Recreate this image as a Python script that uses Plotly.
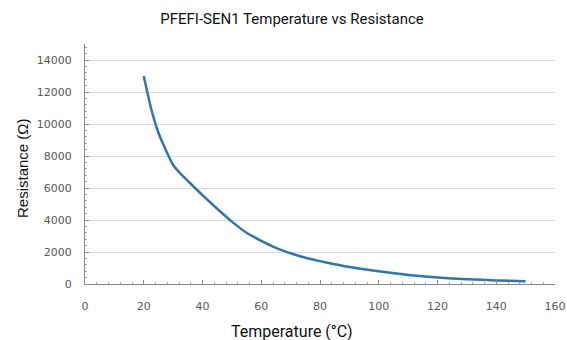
import plotly.graph_objects as go

temperature_c = [20, 22.5, 25, 27.5, 30, 32.5, 35, 40, 45, 50, 55, 60, 65, 70, 75, 80, 85, 90, 95, 100, 110, 120, 130, 140, 150]
resistance_ohm = [13000, 10970, 9450, 8380, 7440, 6900, 6450, 5550, 4700, 3900, 3200, 2700, 2260, 1920, 1640, 1430, 1240, 1060, 920, 790, 560, 400, 300, 220, 170]

x_ticks = [0, 20, 40, 60, 80, 100, 120, 140, 160]
y_ticks = [0, 2000, 4000, 6000, 8000, 10000, 12000, 14000]

fig = go.Figure()
fig.add_trace(go.Scatter(
    x=temperature_c, y=resistance_ohm, mode="lines",
    line=dict(color="#2E75B6", width=2.5, shape="spline", smoothing=0.5),
    showlegend=False, hoverinfo="skip",
))

tick_font = dict(family="DejaVu Sans, Arial, sans-serif", size=11, color="#595959")

W, H = 567, 340
L, T = 85, 44
R = W - 555
B = H - 284
pw, ph = W - L - R, H - T - B

fig.update_layout(
    width=W, height=H,
    margin=dict(l=L, r=R, t=T, b=B, autoexpand=False),
    paper_bgcolor="white", plot_bgcolor="white",
    title=dict(text="PFEFI-SEN1 Temperature vs Resistance", x=292 / W, xanchor="center",
               y=1 - 19 / H, yanchor="middle",
               font=dict(family="Roboto, Arial, sans-serif", size=15, color="#111111")),
    xaxis=dict(
        range=[0, 160], tickvals=x_ticks, ticktext=[str(v) for v in x_ticks],
        showgrid=False, zeroline=False, automargin=False,
        showline=True, linecolor="#8c8c8c", linewidth=1,
        ticks="inside", ticklen=4, tickcolor="#8c8c8c",
        minor=dict(dtick=4, ticks="inside", ticklen=2, tickcolor="#a0a0a0"),
        tickfont=tick_font, ticklabelstandoff=12, ticklabeloverflow="allow",
    ),
    yaxis=dict(
        range=[0, 15000], tickvals=y_ticks, ticktext=[str(v) for v in y_ticks],
        showgrid=True, gridcolor="#d9d9d9", gridwidth=1, zeroline=False, automargin=False,
        showline=True, linecolor="#8c8c8c", linewidth=1,
        ticks="inside", ticklen=4, tickcolor="#8c8c8c",
        minor=dict(dtick=400, ticks="inside", ticklen=2, tickcolor="#a0a0a0"),
        tickfont=tick_font, ticklabelstandoff=10, ticklabeloverflow="allow",
    ),
    annotations=[
        dict(text="Temperature (°C)", xref="paper", yref="paper",
             x=(292 - L) / pw, y=(H - B - 331) / ph, xanchor="center", yanchor="middle",
             showarrow=False, font=dict(family="Roboto, Arial, sans-serif", size=16, color="#111111")),
        dict(text="Resistance (Ω)", xref="paper", yref="paper", textangle=-90,
             x=(22 - L) / pw, y=(H - B - 168) / ph, xanchor="center", yanchor="middle",
             showarrow=False, font=dict(family="Liberation Sans, Arial, sans-serif", size=15, color="#111111")),
    ],
)

# remove the default page margin so the figure sits at the window's top-left corner
fig.write_html(
    "out.html",
    config={"displayModeBar": False, "staticPlot": True},
    post_script="document.body.style.margin='0';document.body.style.overflow='hidden';",
)
